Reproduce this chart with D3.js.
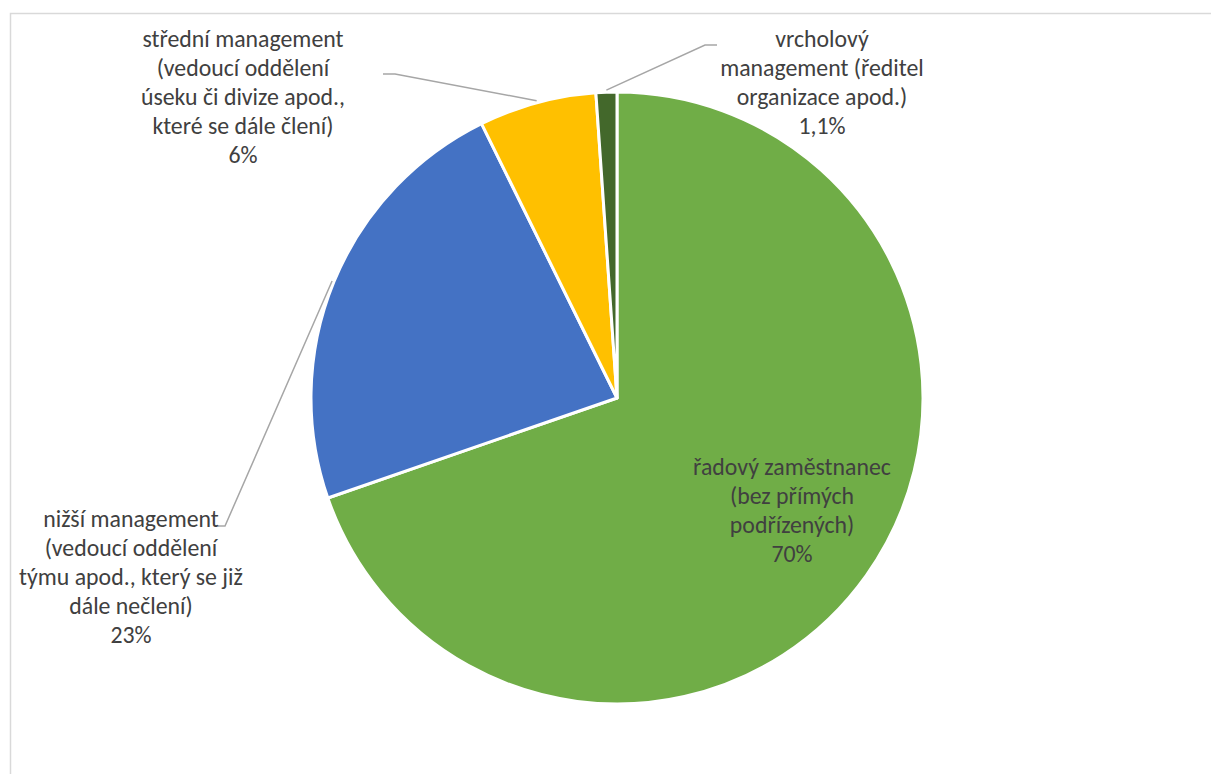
<!DOCTYPE html>
<html>
<head>
<meta charset="utf-8">
<script src="https://cdn.jsdelivr.net/npm/d3@7"></script>
<style>
  html, body { margin: 0; padding: 0; background: #fff; }
  svg { display: block; }
</style>
</head>
<body>
<svg id="chart" width="1211" height="774"></svg>
<script>
// ---- data ----
const categories = [
  "řadový zaměstnanec (bez přímých podřízených)",
  "nižší management (vedoucí oddělení týmu apod., který se již dále nečlení)",
  "střední management (vedoucí oddělení úseku či divize apod., které se dále člení)",
  "vrcholový management (ředitel organizace apod.)"
];
const values = [69.7, 23.0, 6.2, 1.1];
const valueLabels = ["70%", "23%", "6%", "1,1%"];
const labelLines = [
  ["řadový zaměstnanec", "(bez přímých", "podřízených)"],
  ["nižší management", "(vedoucí oddělení", "týmu apod., který se již", "dále nečlení)"],
  ["střední management", "(vedoucí oddělení", "úseku či divize apod.,", "které se dále člení)"],
  ["vrcholový", "management (ředitel", "organizace apod.)"]
];
const colors = ["#70AD47", "#4472C4", "#FFC000", "#43682B"];

// ---- layout ----
const W = 1211, H = 774;
const cx = 617, cy = 398, R = 306;
const lineH = 29;
const fontFamily = "Carlito, Calibri, Lato, 'Open Sans', sans-serif";
// label placement: centre x of text block, baseline of first line, leader elbow/end
const labelLayout = [
  { x: 792, y: 475, inside: true },
  { x: 131, y: 527, elbow: [225, 526], start: [218, 526] },
  { x: 243, y: 47,  elbow: [395, 74],  start: [383, 74] },
  { x: 822, y: 47,  elbow: [705, 45],  start: [717, 45] }
];

const svg = d3.select("#chart");

// chart border (left + top)
svg.append("path")
  .attr("d", `M10.5,${H} V13.5 H${W}`)
  .attr("fill", "none")
  .attr("stroke", "#D9D9D9")
  .attr("stroke-width", 1.5);

const pie = d3.pie().sort(null).value(d => d)(values);
const arc = d3.arc().innerRadius(0).outerRadius(R);

const g = svg.append("g").attr("transform", `translate(${cx},${cy})`);
g.selectAll("path.slice")
  .data(pie)
  .join("path")
  .attr("class", "slice")
  .attr("d", arc)
  .attr("fill", (d, i) => colors[i])
  .attr("stroke", "#fff")
  .attr("stroke-width", 3)
  .attr("stroke-linejoin", "round");

// fit font size so that Calibri-like widths are matched
const probe = svg.append("text").attr("font-family", fontFamily).attr("font-size", 24)
  .text("střední management");
const probeW = probe.node().getComputedTextLength();
probe.remove();
const fontSize = Math.min(26, Math.max(16, 24 * 201 / probeW));

// leader lines
const leaderR = R + 2;
pie.forEach((d, i) => {
  const L = labelLayout[i];
  if (L.inside) return;
  const a = (d.startAngle + d.endAngle) / 2;
  const ex = cx + leaderR * Math.sin(a);
  const ey = cy - leaderR * Math.cos(a);
  svg.append("polyline")
    .attr("points", [L.start, L.elbow, [ex, ey]].map(p => p.join(",")).join(" "))
    .attr("fill", "none")
    .attr("stroke", "#A6A6A6")
    .attr("stroke-width", 1.5);
});

// labels
labelLayout.forEach((L, i) => {
  const lines = labelLines[i].concat([valueLabels[i]]);
  const t = svg.append("text")
    .attr("font-family", fontFamily)
    .attr("font-size", fontSize)
    .attr("fill", "#404040")
    .attr("text-anchor", "middle");
  lines.forEach((ln, k) => {
    t.append("tspan").attr("x", L.x).attr("y", L.y + k * lineH).text(ln);
  });
});
</script>
</body>
</html>
